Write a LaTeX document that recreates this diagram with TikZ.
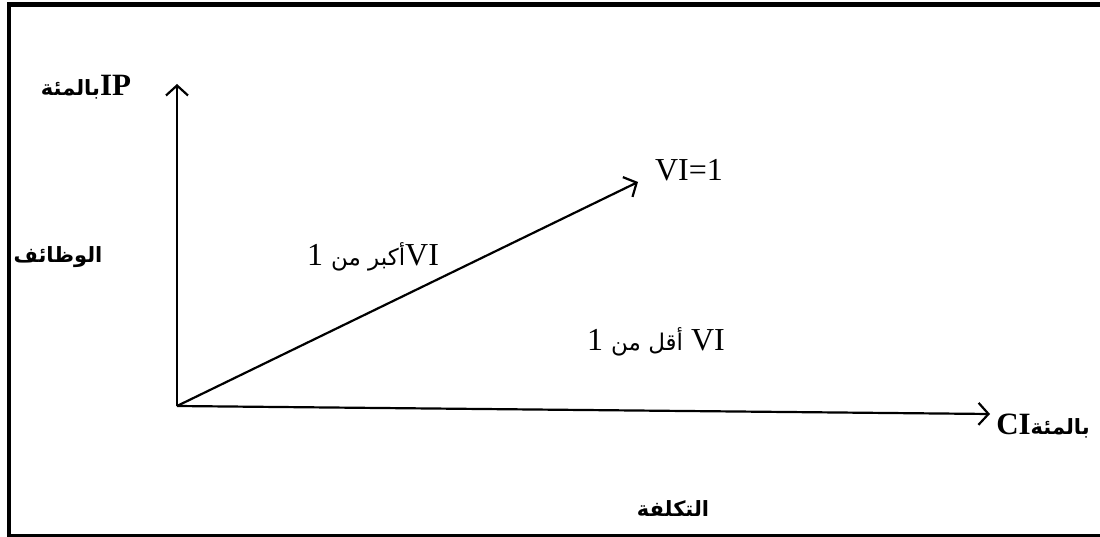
\documentclass[tikz,border=0pt]{standalone}
\usepackage{fontspec}
\setmainfont{Liberation Serif}
\newfontfamily\arabicfont[Script=Arabic]{DejaVu Sans}
\TeXXeTstate=1
\usetikzlibrary{arrows.meta}
\newcommand{\ar}[1]{{\arabicfont\fontsize{23}{27}\selectfont\beginR #1\endR}}
\newcommand{\arb}[1]{{\arabicfont\bfseries\fontsize{21}{25}\selectfont\beginR #1\endR}}
\begin{document}
\begin{tikzpicture}[x=1pt,y=-1pt,
  frame/.style={line width=4.5pt},
  axis/.style={line width=2.2pt,-{Straight Barb[length=10pt,width=22pt]}},
  lbl/.style={inner sep=0pt,font=\fontsize{32}{38}\selectfont},
  blbl/.style={inner sep=0pt,font=\fontsize{31}{37}\selectfont\bfseries}]
\useasboundingbox (0,0) rectangle (1100,537);
\fill[white] (0,0) rectangle (1100,537);
\draw[frame] (1104,4.5) -- (9,4.5) -- (9,536) -- (1104,536);
\coordinate (O) at (177,406);
\coordinate (Y) at (177,84);
\coordinate (X) at (990,414);
\coordinate (D) at (638,182);
\draw[axis] (O) -- (Y);
\draw[axis] (O) -- (X);
\draw[axis] (O) -- (D);
\node[blbl] (ip) at (86,87) {\arb{بالمئة}IP};
\node[blbl] (fun) at (58,257) {\arb{الوظائف}};
\node[lbl] (gt) at (373,257) {1 \ar{أكبر من}VI};
\node[lbl] (eq) at (689,170) {VI=1};
\node[lbl] (lt) at (656,342) {1 \ar{أقل من} VI};
\node[blbl] (ci) at (1043,426) {CI\arb{بالمئة}};
\node[blbl] (cost) at (673,509) {\arb{التكلفة}};
\end{tikzpicture}
\end{document}
